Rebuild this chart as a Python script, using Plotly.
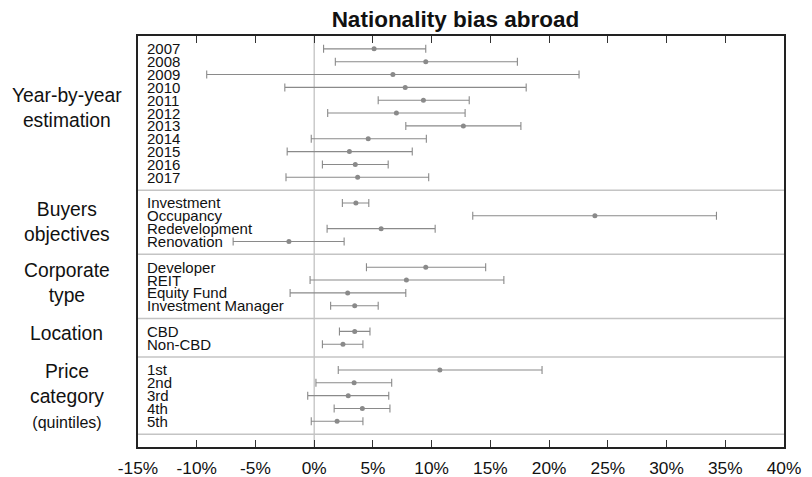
import plotly.graph_objects as go

# ---- data (percent) ----
groups = ["Year-by-year<br>estimation", "Buyers<br>objectives", "Corporate<br>type",
          "Location", "Price<br>category<br><span style='font-size:16px'>(quintiles)</span>"]
group_categories = [
    ["2007", "2008", "2009", "2010", "2011", "2012", "2013", "2014", "2015", "2016", "2017"],
    ["Investment", "Occupancy", "Redevelopment", "Renovation"],
    ["Developer", "REIT", "Equity Fund", "Investment Manager"],
    ["CBD", "Non-CBD"],
    ["1st", "2nd", "3rd", "4th", "5th"],
]
estimate = [5.1, 9.5, 6.7, 7.75, 9.3, 7.0, 12.7, 4.6, 3.0, 3.5, 3.7,
            3.55, 23.9, 5.7, -2.15,
            9.5, 7.85, 2.85, 3.45,
            3.45, 2.45,
            10.7, 3.4, 2.9, 4.1, 1.95]
lower = [0.8, 1.8, -9.15, -2.5, 5.45, 1.15, 7.8, -0.25, -2.3, 0.7, -2.4,
         2.4, 13.5, 1.1, -6.9,
         4.45, -0.35, -2.05, 1.4,
         2.15, 0.7,
         2.05, 0.15, -0.55, 1.7, -0.25]
upper = [9.5, 17.3, 22.55, 18.05, 13.2, 12.85, 17.6, 9.55, 8.35, 6.3, 9.75,
         4.65, 34.25, 10.3, 2.55,
         14.6, 16.15, 7.8, 5.45,
         4.75, 4.15,
         19.4, 6.6, 6.35, 6.45, 4.15]
tick_values = [-15, -10, -5, 0, 5, 10, 15, 20, 25, 30, 35, 40]
tick_labels = ["-15%", "-10%", "-5%", "0%", "5%", "10%", "15%", "20%", "25%", "30%", "35%", "40%"]

# ---- layout of rows (one empty row between groups, one after the last) ----
rows, cats, separators, group_centers = [], [], [], []
r = 0
for cl in group_categories:
    start = r + 1
    for c in cl:
        r += 1
        rows.append(r)
        cats.append(c)
    group_centers.append((start + r) / 2)
    r += 1
    separators.append(r)
y_max = r + 1

FONT = "Liberation Sans, Arial, Helvetica, sans-serif"
MARK = "#8a8a8a"

fig = go.Figure()
fig.add_trace(go.Scatter(
    x=estimate, y=rows, mode="markers",
    marker=dict(size=5, color=MARK),
    error_x=dict(type="data", symmetric=False,
                 array=[u - e for u, e in zip(upper, estimate)],
                 arrayminus=[e - l for e, l in zip(estimate, lower)],
                 color=MARK, thickness=1.1, width=4),
    hoverinfo="skip", showlegend=False,
))

shapes = [dict(type="line", xref="x", yref="paper", x0=0, x1=0, y0=0, y1=1,
               line=dict(color="#bdbdbd", width=1.2), layer="below")]
for s in separators:
    shapes.append(dict(type="line", xref="paper", yref="y", x0=0, x1=1, y0=s, y1=s,
                       line=dict(color="#c4c4c4", width=1.5), layer="below"))

annotations = []
for c, y in zip(cats, rows):
    annotations.append(dict(text=c, x=0.011, xref="paper", y=y, yref="y",
                            xanchor="left", yanchor="middle", showarrow=False,
                            font=dict(family=FONT, size=15, color="#111")))
offsets = [-0.4, 0.0, -0.25, -0.35, 0.05]
for g, yc, off in zip(groups, group_centers, offsets):
    annotations.append(dict(text=g, x=-0.11, xref="paper", y=yc + off, yref="y",
                            xanchor="center", yanchor="middle", showarrow=False,
                            font=dict(family=FONT, size=19.3, color="#111")))

fig.update_layout(
    width=812, height=477,
    margin=dict(l=130, r=36, t=28, b=38, autoexpand=False),
    paper_bgcolor="white", plot_bgcolor="white",
    title=dict(text="<b>Nationality bias abroad</b>", x=0.551, xref="container",
               y=0.976, yref="container", xanchor="center", yanchor="middle",
               font=dict(family=FONT, size=22.5, color="#111")),
    xaxis=dict(range=[-15, 40], tickvals=tick_values, ticktext=tick_labels,
               ticks="inside", ticklen=7, tickwidth=1, tickcolor="#333",
               showline=True, linecolor="#222", linewidth=1.5, mirror="ticks",
               showgrid=False, zeroline=False, ticklabelstandoff=4,
               automargin=False,
               tickfont=dict(family=FONT, size=17.3, color="#111")),
    yaxis=dict(range=[y_max, 0], showticklabels=False, ticks="",
               showline=True, linecolor="#222", linewidth=1.5, mirror=True,
               showgrid=False, zeroline=False, automargin=False),
    shapes=shapes, annotations=annotations,
)
fig.write_html("out.html")
